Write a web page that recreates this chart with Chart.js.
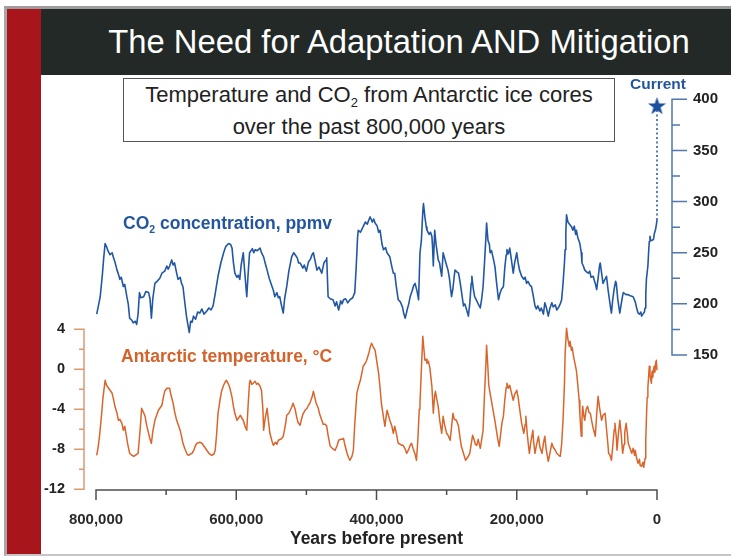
<!DOCTYPE html>
<html>
<head>
<meta charset="utf-8">
<title>The Need for Adaptation AND Mitigation</title>
<script src="https://cdn.jsdelivr.net/npm/chart.js@4"></script>
<style>
  html, body { margin: 0; padding: 0; }
  body {
    width: 731px; height: 558px; position: relative; overflow: hidden;
    background: #fff; font-family: "Liberation Sans", Arial, Helvetica, sans-serif;
  }
  .frame {
    position: absolute; left: 4px; top: 6px; width: 727px; height: 550px; box-sizing: border-box;
    border-top: 3px solid #9d9d9d; border-left: 3px solid #a7a7a7; border-bottom: 2px solid #c6c6c6;
  }
  .sidebar { position: absolute; left: 7px; top: 9px; width: 34px; height: 545px; background: #a8161c; }
  .header  { position: absolute; left: 41px; top: 9px; width: 690px; height: 66px; background: #222927; }
  .title {
    position: absolute; left: 67px; top: 9px; width: 664px; height: 66px; line-height: 66px;
    text-align: center; color: #fff; font-size: 32.8px; white-space: nowrap;
  }
  .subtitle {
    position: absolute; left: 123px; top: 78px; width: 492px; height: 64px; box-sizing: border-box;
    border: 1.5px solid #555; background: #fff; color: #222; font-size: 22px; line-height: 29px;
    text-align: center; white-space: nowrap; padding-top: 1px;
  }
  .sub { font-size: 13px; position: relative; top: 5px; }
  .sub2 { font-size: 10.5px; position: relative; top: 4px; }
  .label { position: absolute; font-weight: bold; white-space: nowrap; line-height: 20px; }
  .co2-label  { left: 123px; top: 213px; font-size: 17.5px; color: #23569f; }
  .temp-label { left: 121px; top: 346px; font-size: 17.5px; color: #d4622a; }
  .current    { left: 626px; top: 75px; width: 64px; text-align: center; font-size: 15.5px; color: #23569f; line-height: 18px; }
  canvas { position: absolute; left: 0; top: 0; }
</style>
</head>
<body>
<div class="frame"></div>
<div class="sidebar"></div>
<div class="header"></div>
<div class="title">The Need for Adaptation AND Mitigation</div>
<canvas id="chart" width="731" height="558"></canvas>
<div class="subtitle">Temperature and CO<span class="sub">2</span> from Antarctic ice cores<br>over the past 800,000 years</div>
<div class="label co2-label">CO<span class="sub2">2</span> concentration, ppmv</div>
<div class="label temp-label">Antarctic temperature, °C</div>
<div class="label current">Current</div>
<script>
// Ice-core CO2 record: [thousand years before present, ppmv]
const co2Record = [
  [799,190],[796,200],[794,207],[791,228],[789,245],[787,259],[785,256],[783,252],[780,248],[777,250],
  [775,245],[773,241],[770,233],[768,229],[766,224],[764,226],[761,217],[759,219],[756,207],[754,200],
  [752,186],[749,184],[747,181.5],[744,183],[742,180],[740,190],[738,211],[736,206],[732,207],[729,212],
  [725,211],[723,205],[721,186],[719,205],[716,220],[713,222],[709,225],[706,230],[702,232],[699,237],
  [697,234],[695,237],[692,243],[690,238],[688,240],[685,230],[683,224],[680,226],[678,220],[676,217],
  [674,205],[671,188],[669,180],[667,172],[665,183],[663,182],[661,188],[658,185],[655,192],[652,191],
  [649,195],[646,190],[642,193],[639,196],[636,194],[633,198],[630,210],[626,227],[622,240],[618,250],
  [615,256],[611,259],[608,258],[606,254.5],[604,240],[602,230],[599,226],[597,228],[595,224],[593,238],
  [590,250],[588,232],[586,215],[585,207],[583,230],[581,250],[580,251],[577,254],[575,250],[573,253],
  [570,252],[566,254.5],[564,250],[561,246],[558,238],[556,233],[553,225],[549,217],[547,213],[545,207],
  [542,211],[540,206],[538,207],[536,200],[533,191],[531,205],[528,217],[525,232],[521,246],[518,250],
  [516,248],[513,245],[511,240],[509,240],[505,235],[503,238],[500,232],[497,241],[494,244],[492,248],
  [490,250],[487,240],[485,233],[482,236],[478,230],[475,240],[472,243],[471,245],[469,207],[466,205],
  [462,204],[459,198],[457,202],[454,194],[451,203],[449,200],[447,204],[444,205],[441,201],[438,204],
  [434,206],[431,211],[429,235],[427,265],[426,272],[423,270],[419,275.5],[416,280],[413,278],[411,282],
  [409,285],[406,280],[404,283],[402,279],[399,276],[397,270],[395,272],[392,258],[390,253],[387,255],
  [385,250],[381,246],[378,236],[376,230],[374,230],[372,218],[369,204],[366,202],[363,197],[361,190],
  [359,186],[356,195],[354,200],[352,207],[349,213],[347,218],[345,220],[342,212],[340,204],[338,250],
  [336,262],[334,290],[333,298],[331,285],[329,275],[328,272],[325,268],[323,270],[321,266],[320,255],
  [319,237],[317,272],[315,258],[312,243],[310,240],[309,235],[307,227],[305,250],[303,245],[301,240],
  [298,233],[296,225],[293,207],[291,215],[289,228],[288,233],[285,231],[283,230],[281,222],[279,213],
  [276,198],[274,200],[271,193],[269,188],[267,200],[265,220],[264,227],[262,215],[260,207],[257,203],
  [255,200],[252,196],[250,205],[248,217],[246,240],[244,265],[243,279],[241,262],[239,258],[238,250],
  [236,252],[233,243],[231,236],[229,222],[226,204],[224,210],[222,214],[219,217],[217,236],[215,248],
  [214,253],[212,249],[210,254.5],[208,245],[205,230],[203,240],[200,250],[198,240],[196,233],[193,227],
  [190,224],[188,226],[186,220],[184,222],[181,218],[179,217],[177,210],[174,198],[172,195],[170,198],
  [167,193],[165,196],[162,190],[160,201],[158,197],[155,188],[153,195],[150,201],[148,197],[145,199],
  [143,194],[140,197],[138,200],[136,204],[134,220],[132,240],[131,253],[130,270],[129,287],[127,280],
  [125,278],[122,275.5],[120,272],[118,276],[116,268],[115,272],[113,265],[110,259],[108,250],[107,240],
  [105,237],[103,233],[100,231],[98,230],[96,232],[94,226],[91,227],[89,222],[88,220],[86,214],
  [84,225],[82,237],[81,240],[79,230],[77,220],[75,223],[72,227],[70,215],[68,205],[66,195],
  [65,191],[63,205],[61,215],[59,222],[58,220],[56,205],[54,195],[53,191],[51,200],[49,208],
  [48,211],[46,210],[44,209],[41,209],[38,208],[34,207],[31,202],[29,196],[27,191],[25,190],
  [23,192],[22,188],[20,190],[18,192],[17,196],[16,210],[15,225],[13,237],[12,250],[11,261],
  [10,266],[9,262],[7,262],[5,263],[4,268],[2,273],[1,277],[0,282]
];

// Antarctic temperature anomaly: [thousand years before present, degrees C]
const tempRecord = [
  [799,-8.6],[797,-7.8],[795,-6.7],[792,-4.5],[790,-2.8],[787,-1.1],[785,-1.6],[782,-1.9],[779,-2.2],[777,-2.4],
  [775,-3.0],[773,-3.7],[770,-4.4],[768,-5.1],[766,-5.0],[763,-5.4],[761,-6.1],[759,-5.7],[757,-6.5],[755,-7.4],
  [752,-8.4],[749,-8.6],[746,-8.7],[744,-8.6],[742,-8.5],[740,-8.4],[737,-6.0],[735,-3.9],[733,-4.2],[730,-4.7],
  [728,-5.5],[725,-6.4],[723,-7.0],[721,-7.4],[719,-6.2],[716,-5.1],[713,-4.5],[711,-4.1],[708,-3.8],[706,-3.6],
  [704,-2.8],[702,-2.2],[699,-1.9],[697,-1.9],[695,-1.9],[693,-2.6],[690,-3.4],[688,-4.2],[685,-5.1],[683,-5.5],
  [680,-6.1],[678,-6.7],[676,-7.4],[673,-8.0],[670,-8.5],[668,-8.6],[666,-8.5],[663,-8.4],[660,-8.0],[658,-7.6],
  [656,-7.4],[652,-7.3],[649,-7.4],[646,-7.7],[642,-8.1],[639,-8.4],[635,-8.6],[632,-8.5],[630,-8.1],[628,-6.5],
  [626,-4.4],[623,-3.0],[621,-2.2],[618,-1.6],[616,-1.3],[614,-1.1],[611,-1.5],[609,-1.9],[606,-2.8],[604,-3.7],
  [602,-4.4],[599,-5.1],[596,-4.8],[594,-4.6],[592,-4.9],[590,-5.1],[587,-5.8],[585,-6.1],[583,-3.5],[581,-1.3],
  [580,-1.1],[578,-1.5],[576,-1.4],[573,-1.2],[571,-1.5],[569,-1.4],[566,-1.7],[564,-2.1],[562,-4.0],[561,-6.1],
  [559,-5.0],[556,-3.9],[554,-5.2],[552,-6.4],[549,-7.2],[547,-7.6],[544,-7.3],[542,-7.5],[540,-7.1],[537,-7.0],
  [535,-6.9],[533,-6.7],[530,-5.6],[528,-4.6],[525,-4.4],[523,-4.1],[521,-3.8],[519,-3.4],[516,-4.0],[514,-4.7],
  [512,-5.3],[509,-5.6],[507,-5.0],[505,-4.5],[502,-4.1],[499,-3.9],[497,-3.6],[495,-3.4],[492,-2.8],[490,-2.2],
  [488,-2.8],[486,-3.4],[483,-3.9],[481,-4.5],[478,-5.1],[476,-5.5],[473,-5.5],[471,-5.7],[469,-6.6],[466,-7.7],
  [463,-7.9],[461,-8.0],[459,-8.1],[456,-7.6],[454,-7.1],[451,-7.0],[449,-7.0],[447,-6.9],[445,-7.6],[442,-8.4],
  [440,-8.8],[438,-9.1],[435,-8.7],[433,-8.1],[431,-5.5],[428,-2.4],[426,-1.8],[423,-1.1],[421,-0.4],[419,0.3],
  [416,0.6],[414,0.9],[411,1.6],[409,2.2],[407,2.6],[405,2.3],[402,1.9],[400,1.0],[397,-0.4],[395,-1.8],
  [393,-3.4],[390,-4.8],[388,-5.7],[386,-4.6],[385,-4.1],[383,-4.6],[381,-5.1],[378,-5.7],[376,-6.4],[374,-5.7],
  [372,-6.3],[369,-7.4],[366,-7.5],[364,-7.6],[362,-7.6],[359,-8.0],[357,-8.4],[354,-8.0],[352,-7.6],[350,-7.4],
  [348,-7.9],[345,-8.5],[343,-9.1],[341,-7.0],[339,-4.0],[338,-3.4],[336,0.0],[334,3.3],[333,2.5],[331,0.9],
  [329,1.0],[328,0.6],[326,0.8],[324,0.2],[321,-1.7],[320,-3.0],[319,-4.4],[317,-2.6],[316,-2.2],[314,-3.0],
  [312,-3.7],[310,-5.0],[309,-5.5],[307,-6.4],[305,-4.7],[303,-5.5],[300,-6.4],[298,-6.6],[295,-7.1],[293,-5.8],
  [291,-4.4],[289,-5.0],[286,-5.1],[283,-5.7],[281,-6.8],[279,-7.7],[276,-8.4],[273,-9.1],[270,-8.8],[267,-8.4],
  [265,-7.5],[263,-6.6],[261,-7.0],[259,-7.5],[257,-7.6],[255,-7.0],[252,-7.9],[250,-7.0],[248,-6.1],[246,-2.5],
  [244,0.5],[243,2.4],[241,0.0],[240,-1.5],[238,-2.4],[236,-3.2],[233,-4.4],[231,-5.2],[229,-6.1],[227,-7.0],
  [225,-7.7],[223,-6.5],[221,-5.3],[219,-4.7],[217,-3.0],[215,-1.8],[214,-1.4],[212,-1.9],[210,-1.6],[208,-2.2],
  [205,-3.1],[203,-2.5],[202,-2.4],[200,-2.1],[198,-2.8],[195,-4.4],[193,-5.4],[190,-6.4],[188,-5.5],[187,-4.7],
  [185,-6.5],[183,-7.8],[182,-8.4],[180,-7.3],[177,-6.1],[176,-7.2],[174,-8.4],[172,-7.6],[169,-6.7],[167,-7.8],
  [164,-8.4],[162,-7.4],[160,-6.7],[158,-8.0],[155,-9.2],[153,-8.5],[150,-7.4],[148,-7.8],[145,-8.1],[143,-8.4],
  [140,-8.6],[138,-8.7],[136,-7.5],[134,-5.1],[132,-1.5],[131,1.6],[129,4.1],[127,3.0],[125,2.3],[124,2.8],
  [122,1.9],[121,2.2],[119,1.3],[117,0.6],[115,-0.1],[113,-1.5],[111,-3.1],[110,-4.5],[108,-6.7],[107,-5.0],
  [106,-3.7],[104,-4.8],[103,-5.1],[101,-4.0],[99,-3.7],[97,-4.3],[95,-4.4],[93,-5.2],[91,-5.9],[88,-6.7],
  [86,-4.5],[84,-2.7],[82,-3.8],[79,-5.1],[77,-4.6],[74,-4.4],[72,-6.0],[70,-7.5],[69,-8.4],[67,-8.6],
  [65,-9.1],[63,-7.6],[61,-6.0],[60,-5.4],[58,-6.8],[57,-8.1],[55,-6.4],[53,-5.1],[51,-6.5],[49,-8.4],
  [47,-7.5],[46,-6.3],[44,-5.4],[42,-6.6],[41,-7.4],[39,-7.8],[37,-8.2],[36,-8.4],[34,-7.9],[32,-8.6],
  [31,-8.1],[29,-8.9],[27,-9.4],[25,-9.0],[24,-9.6],[22,-9.7],[20,-9.3],[19,-9.8],[17,-8.9],[16,-7.0],
  [15,-4.7],[14,-2.8],[13,-1.8],[12,-0.8],[11,0.3],[10,-0.5],[9,-1.0],[8,-1.4],[7,-0.2],[6,-0.8],
  [5,0.0],[4,0.3],[3,-0.3],[2,0.6],[1,0.9],[0,-0.1]
];

// Present-day CO2 concentration (ppmv) marked by the star
const currentCo2 = 394;

// Axis ticks
const yearTicks  = [800000, 600000, 400000, 200000, 0];
const yearMinor  = [700000, 500000, 300000, 100000];
const tempTicks  = [-12, -8, -4, 0, 4];
const tempMinor  = [-10, -6, -2, 2];
const co2Ticks   = [150, 200, 250, 300, 350, 400];
const co2Minor   = [175, 225, 275, 325, 375];

const CO2_BLUE = '#2157a3';
const TEMP_ORANGE = '#d9652b';
const FONT = "'Liberation Sans', Arial, Helvetica, sans-serif";

const toPoints = rec => rec.map(([kyr, v]) => ({ x: kyr * 1000, y: v }));

// Filled five-pointed star used as the marker for the present-day value
function makeStar(radius, color) {
  const c = document.createElement('canvas');
  const size = Math.ceil(radius * 2 + 2);
  c.width = size; c.height = size;
  const g = c.getContext('2d');
  const cx = size / 2, cy = size / 2 + radius * 0.1;
  g.beginPath();
  for (let i = 0; i < 10; i++) {
    const r = i % 2 === 0 ? radius : radius * 0.4;
    const a = -Math.PI / 2 + i * Math.PI / 5;
    const px = cx + r * Math.cos(a), py = cy + r * Math.sin(a);
    i === 0 ? g.moveTo(px, py) : g.lineTo(px, py);
  }
  g.closePath();
  g.fillStyle = color;
  g.fill();
  return c;
}

// Draws the free-standing axis lines with major and minor tick marks
const axisLines = {
  id: 'axisLines',
  afterDraw(chart) {
    const { ctx, scales: { x, yT, yC } } = chart;
    ctx.save();
    ctx.lineCap = 'butt';

    // time axis
    const xy = x.top;
    ctx.strokeStyle = '#4d4d4d';
    ctx.lineWidth = 1.5;
    ctx.beginPath();
    ctx.moveTo(x.getPixelForValue(800000), xy);
    ctx.lineTo(x.getPixelForValue(0), xy);
    yearTicks.forEach(v => { const p = x.getPixelForValue(v); ctx.moveTo(p, xy - 0.75); ctx.lineTo(p, xy + 10); });
    yearMinor.forEach(v => { const p = x.getPixelForValue(v); ctx.moveTo(p, xy); ctx.lineTo(p, xy + 5); });
    ctx.stroke();

    // temperature axis
    const tx = x.left - 12;
    ctx.strokeStyle = '#dc9a73';
    ctx.beginPath();
    ctx.moveTo(tx, yT.getPixelForValue(-12));
    ctx.lineTo(tx, yT.getPixelForValue(4));
    tempTicks.forEach(v => { const p = yT.getPixelForValue(v); ctx.moveTo(tx + 0.75, p); ctx.lineTo(tx - 10, p); });
    tempMinor.forEach(v => { const p = yT.getPixelForValue(v); ctx.moveTo(tx, p); ctx.lineTo(tx - 5, p); });
    ctx.stroke();

    // CO2 axis
    const cx = x.right + 15;
    ctx.strokeStyle = '#4f78ae';
    ctx.beginPath();
    ctx.moveTo(cx, yC.getPixelForValue(150));
    ctx.lineTo(cx, yC.getPixelForValue(400));
    co2Ticks.forEach(v => { const p = yC.getPixelForValue(v); ctx.moveTo(cx - 0.75, p); ctx.lineTo(cx + 15, p); });
    co2Minor.forEach(v => { const p = yC.getPixelForValue(v); ctx.moveTo(cx, p); ctx.lineTo(cx + 8, p); });
    ctx.stroke();
    ctx.restore();
  }
};

const tickFont = { family: FONT, size: 15, weight: 'bold' };
const co2Points = toPoints(co2Record);
const lastCo2 = co2Points[co2Points.length - 1];

new Chart(document.getElementById('chart'), {
  type: 'line',
  data: {
    datasets: [
      {
        label: 'Current',
        data: [{ x: 0, y: currentCo2 }],
        yAxisID: 'yC',
        showLine: false,
        pointStyle: makeStar(9.5, '#1d4f9e'),
        pointRadius: 10,
        clip: false,
        order: 0
      },
      {
        label: 'Link to present',
        data: [{ x: lastCo2.x, y: lastCo2.y }, { x: 0, y: currentCo2 }],
        yAxisID: 'yC',
        borderColor: CO2_BLUE,
        borderWidth: 1.5,
        borderDash: [2, 2.5],
        pointRadius: 0,
        clip: false,
        order: 1
      },
      {
        label: 'CO2 concentration, ppmv',
        data: co2Points,
        yAxisID: 'yC',
        borderColor: CO2_BLUE,
        borderWidth: 1.6,
        borderJoinStyle: 'round',
        pointRadius: 0,
        tension: 0,
        clip: 4,
        order: 2
      },
      {
        label: 'Antarctic temperature, °C',
        data: toPoints(tempRecord),
        yAxisID: 'yT',
        borderColor: TEMP_ORANGE,
        borderWidth: 1.5,
        borderJoinStyle: 'round',
        pointRadius: 0,
        tension: 0,
        clip: 4,
        order: 3
      }
    ]
  },
  options: {
    responsive: false,
    animation: false,
    devicePixelRatio: 1,
    layout: { padding: { top: 80, left: 0, right: 0, bottom: 0 } },
    plugins: { legend: { display: false }, tooltip: { enabled: false } },
    scales: {
      x: {
        type: 'linear',
        position: 'bottom',
        min: 0,
        max: 800000,
        reverse: true,
        grid: { display: false, drawTicks: false },
        border: { display: false },
        afterBuildTicks: s => { s.ticks = yearTicks.map(v => ({ value: v })); },
        afterFit: s => { s.height = 68; },
        ticks: {
          font: tickFont, color: '#2a2a2a', padding: 21, maxRotation: 0, autoSkip: false,
          callback: v => Number(v).toLocaleString('en-US')
        },
        title: {
          display: true, text: 'Years before present', color: '#222',
          font: { family: FONT, size: 17.5, weight: 'bold' }, padding: { top: 0, bottom: 8 }
        }
      },
      yT: {
        type: 'linear',
        position: 'left',
        min: -12.07,
        max: 28.93,
        grid: { display: false, drawTicks: false },
        border: { display: false },
        afterBuildTicks: s => { s.ticks = tempTicks.map(v => ({ value: v })); },
        afterFit: s => { s.width = 96; },
        ticks: { font: { family: FONT, size: 14.5, weight: 'bold' }, color: '#222', padding: 31, callback: v => String(v) }
      },
      yC: {
        type: 'linear',
        position: 'right',
        min: 18,
        max: 418.9,
        grid: { display: false, drawTicks: false },
        border: { display: false },
        afterBuildTicks: s => { s.ticks = co2Ticks.map(v => ({ value: v })); },
        afterFit: s => { s.width = 74; },
        ticks: { font: tickFont, color: '#222', padding: 36, callback: v => String(v) }
      }
    }
  },
  plugins: [axisLines]
});
</script>
</body>
</html>
